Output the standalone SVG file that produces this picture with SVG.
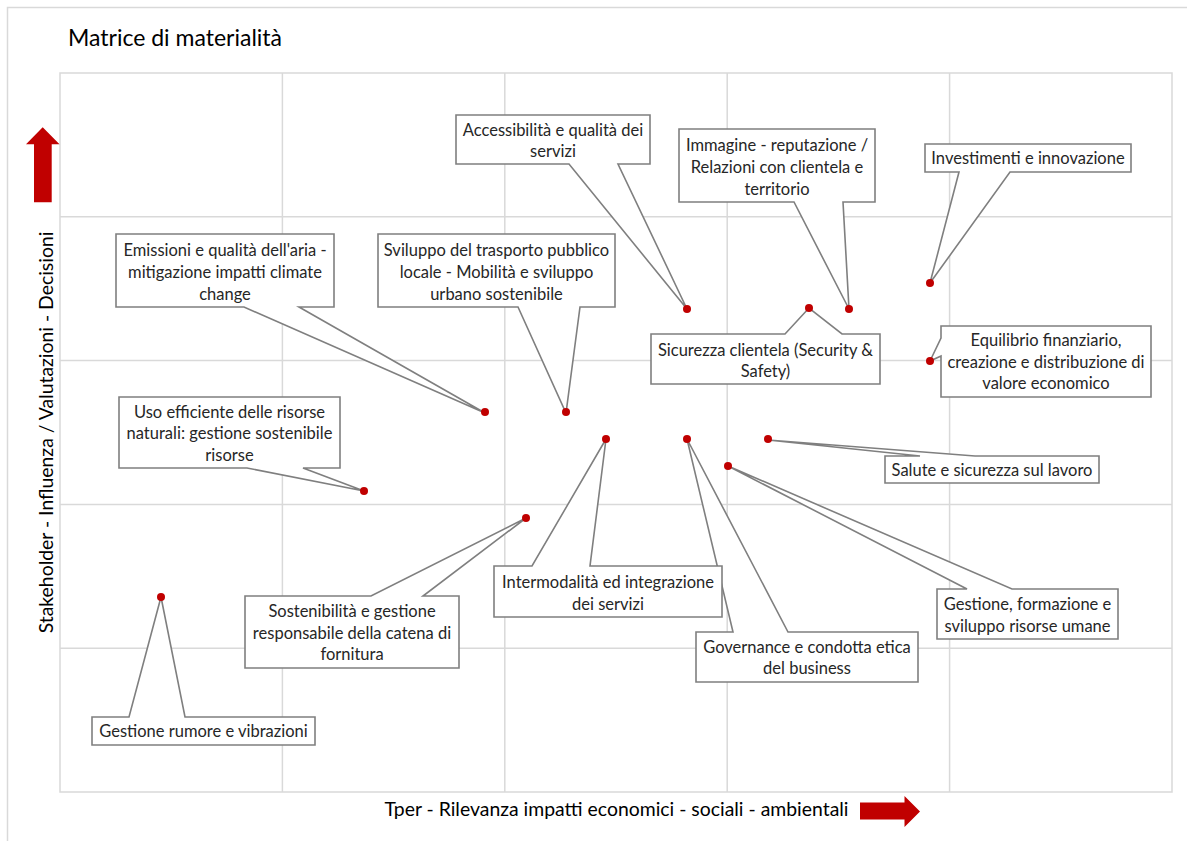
<svg xmlns="http://www.w3.org/2000/svg" width="1187" height="841" viewBox="0 0 1187 841">
<style>
.grid{stroke:#d9d9d9;stroke-width:1.5;fill:none}
.co{fill:#ffffff;stroke:#7f7f7f;stroke-width:1.6;stroke-linejoin:miter}
.ct{font-family:Lato,"Liberation Sans",sans-serif;font-size:16.5px;fill:#262626;text-anchor:middle}
.ax{font-family:Lato,"Liberation Sans",sans-serif;font-size:19.4px;fill:#000000}
.dot{fill:#c00000}
.arr{fill:#c00000}
</style>
<rect width="1187" height="841" fill="#ffffff"/>
<path class="grid" d="M7.5,841 V7.5 H1187"/>
<g id="grid">
<rect class="grid" x="60" y="73" width="1112" height="719"/>
<path class="grid" d="M282.4,73 V792 M504.8,73 V792 M727.2,73 V792 M949.6,73 V792 M60,216.8 H1172 M60,360.6 H1172 M60,504.4 H1172 M60,648.2 H1172"/>
</g>
<text x="68" y="46" font-family="Lato,'Liberation Sans',sans-serif" font-size="23" fill="#000000">Matrice di materialità</text>
<g id="axis-y">
<polygon class="arr" points="42.7,127.3 59.5,144.3 51.7,144.3 51.7,202.3 34,202.3 34,144.3 26,144.3"/>
<text class="ax" transform="translate(53,432.5) rotate(-90)" text-anchor="middle">Stakeholder - Influenza / Valutazioni - Decisioni</text>
</g>
<g id="axis-x">
<text class="ax" x="616.5" y="816" text-anchor="middle">Tper - Rilevanza impatti economici - sociali - ambientali</text>
<polygon class="arr" points="860,802.5 904.5,802.5 904.5,796 920,811.5 904.5,827 904.5,819.5 860,819.5"/>
</g>
<g id="connectors">
<g id="n-accessibilita">
<path class="co" d="M456,115 H650 V164 H618 L687,309 L569,164 H456 Z"/>
<text class="ct" x="553" y="135.5">Accessibilità e qualità dei</text>
<text class="ct" x="553" y="157">servizi</text>
</g>
<g id="n-immagine">
<path class="co" d="M679,129 H875 V202 H843 L849,309 L794,202 H679 Z"/>
<text class="ct" x="777" y="150.5">Immagine - reputazione /</text>
<text class="ct" x="777" y="172.5">Relazioni con clientela e</text>
<text class="ct" x="777" y="194.5">territorio</text>
</g>
<g id="n-investimenti">
<path class="co" d="M925,144 H1131 V172 H1010 L930,283 L959,172 H925 Z"/>
<text class="ct" x="1028" y="164">Investimenti e innovazione</text>
</g>
<g id="n-equilibrio">
<path class="co" d="M941,326 H1151 V397 H941 V356 L930,361 L941,338 Z"/>
<text class="ct" x="1046" y="345.5">Equilibrio finanziario,</text>
<text class="ct" x="1046" y="367.5">creazione e distribuzione di</text>
<text class="ct" x="1046" y="389">valore economico</text>
</g>
<g id="n-sicurezza">
<path class="co" d="M651,334 H785 L809,308 L842,334 H880 V384 H651 Z"/>
<text class="ct" x="765.5" y="355.5">Sicurezza clientela (Security &amp;</text>
<text class="ct" x="765.5" y="377">Safety)</text>
</g>
<g id="n-emissioni">
<path class="co" d="M116,234 H334 V307 H299 L485,413 L244,307 H116 Z"/>
<text class="ct" x="225" y="255.5">Emissioni e qualità dell'aria -</text>
<text class="ct" x="225" y="277.5">mitigazione impatti climate</text>
<text class="ct" x="225" y="299.5">change</text>
</g>
<g id="n-sviluppo">
<path class="co" d="M378,234 H615 V307 H580 L566,413 L518,307 H378 Z"/>
<text class="ct" x="496.5" y="255.5">Sviluppo del trasporto pubblico</text>
<text class="ct" x="496.5" y="277.5">locale - Mobilità e sviluppo</text>
<text class="ct" x="496.5" y="299.5">urbano sostenibile</text>
</g>
<g id="n-uso">
<path class="co" d="M119,397 H340 V468 H303 L364,491 L247,468 H119 Z"/>
<text class="ct" x="229.5" y="417.5">Uso efficiente delle risorse</text>
<text class="ct" x="229.5" y="439">naturali: gestione sostenibile</text>
<text class="ct" x="229.5" y="460.5">risorse</text>
</g>
<g id="n-sostenibilita">
<path class="co" d="M245,596 H371 L526,518 L423,596 H459 V668 H245 Z"/>
<text class="ct" x="352" y="616.5">Sostenibilità e gestione</text>
<text class="ct" x="352" y="638.5">responsabile della catena di</text>
<text class="ct" x="352" y="660">fornitura</text>
</g>
<g id="n-rumore">
<path class="co" d="M92,717 H129 L161,597 L185,717 H315 V745 H92 Z"/>
<text class="ct" x="203.5" y="737">Gestione rumore e vibrazioni</text>
</g>
<g id="n-governance">
<path class="co" d="M696,632 H733 L687,439 L788,632 H918 V682 H696 Z"/>
<text class="ct" x="807" y="653">Governance e condotta etica</text>
<text class="ct" x="807" y="674">del business</text>
</g>
<g id="n-intermodalita">
<path class="co" d="M494,566 H532 L606,439 L590,566 H722 V617 H494 Z"/>
<text class="ct" x="608" y="588">Intermodalità ed integrazione</text>
<text class="ct" x="608" y="609.5">dei servizi</text>
</g>
<g id="n-salute">
<path class="co" d="M885,456 H920 L768,440 L975,456 H1099 V483 H885 Z"/>
<text class="ct" x="992" y="475.5">Salute e sicurezza sul lavoro</text>
</g>
<g id="n-gestione">
<path class="co" d="M937,589 H967 L728,466 L1012,589 H1118 V639 H937 Z"/>
<text class="ct" x="1027.5" y="610">Gestione, formazione e</text>
<text class="ct" x="1027.5" y="631.5">sviluppo risorse umane</text>
</g>
</g>
<g id="dots">
<circle class="dot" cx="687" cy="309" r="4"/>
<circle class="dot" cx="809" cy="308" r="4"/>
<circle class="dot" cx="849" cy="309" r="4"/>
<circle class="dot" cx="930" cy="283" r="4"/>
<circle class="dot" cx="930" cy="361" r="4"/>
<circle class="dot" cx="485" cy="412" r="4"/>
<circle class="dot" cx="566" cy="412" r="4"/>
<circle class="dot" cx="606" cy="439" r="4"/>
<circle class="dot" cx="687" cy="439" r="4"/>
<circle class="dot" cx="768" cy="439" r="4"/>
<circle class="dot" cx="728" cy="466" r="4"/>
<circle class="dot" cx="364" cy="491" r="4"/>
<circle class="dot" cx="526" cy="518" r="4"/>
<circle class="dot" cx="161" cy="597" r="4"/>
</g>
</svg>
